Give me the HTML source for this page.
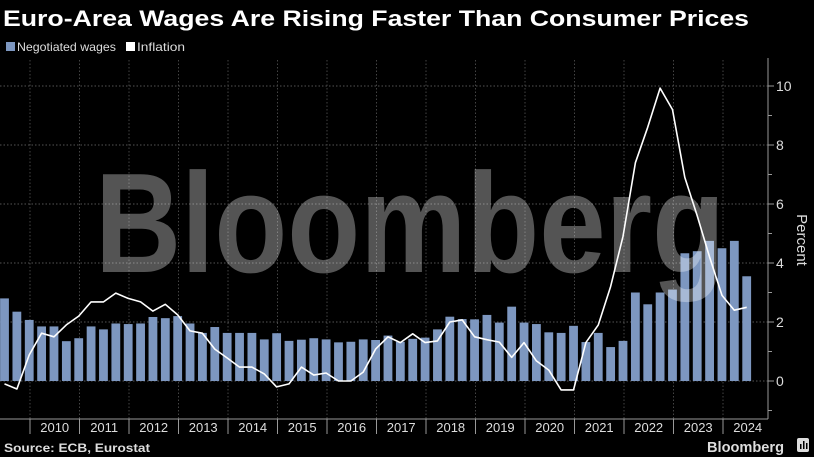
<!DOCTYPE html>
<html><head><meta charset="utf-8"><style>
html,body{margin:0;padding:0;background:#000;width:814px;height:457px;overflow:hidden}
svg{display:block}
text{font-family:"Liberation Sans",sans-serif}
</style></head><body>
<svg id="c" width="814" height="457" xmlns="http://www.w3.org/2000/svg">
<rect width="814" height="457" fill="#000"/>
<text x="3" y="26" fill="#fff" font-size="22" font-weight="bold" textLength="746" lengthAdjust="spacingAndGlyphs">Euro-Area Wages Are Rising Faster Than Consumer Prices</text>
<rect x="6" y="42" width="9" height="9" fill="#7d97c0"/>
<text x="17" y="51" fill="#ddd" font-size="12" textLength="99" lengthAdjust="spacingAndGlyphs">Negotiated wages</text>
<rect x="126" y="42" width="9" height="9" fill="#fff"/>
<text x="137" y="51" fill="#ddd" font-size="12" textLength="48" lengthAdjust="spacingAndGlyphs">Inflation</text>
<g id="grid"></g>
<g id="bars"></g>
<text x="95" y="272" fill="#fff" fill-opacity="0.33" font-size="142" font-weight="bold" textLength="630" lengthAdjust="spacingAndGlyphs">Bloomberg</text>
<polyline id="line" fill="none" stroke="#fff" stroke-width="1.6" stroke-linejoin="round"/>
<g id="axes"></g>
<text x="0" y="0" fill="#ddd" font-size="15" transform="translate(797,240) rotate(90)" text-anchor="middle">Percent</text>
<text x="4" y="452" fill="#ddd" font-size="12" font-weight="bold" textLength="146" lengthAdjust="spacingAndGlyphs">Source: ECB, Eurostat</text>
<text x="707" y="452" fill="#ddd" font-size="15" font-weight="bold" textLength="77" lengthAdjust="spacingAndGlyphs">Bloomberg</text>
<rect x="797" y="438" width="12" height="14" rx="2" fill="#ddd"/>
<rect x="800" y="444" width="1.5" height="5" fill="#000"/><rect x="803" y="441" width="1.5" height="8" fill="#000"/><rect x="806" y="443" width="1.5" height="6" fill="#000"/>
</svg>
<script>
var ns="http://www.w3.org/2000/svg";
function el(p,t,a){var e=document.createElementNS(ns,t);for(var k in a)e.setAttribute(k,a[k]);document.getElementById(p).appendChild(e);return e;}
var Y=function(v){return 381-29.5*v;};
var X=function(i){return 4.5+12.37*i;};
var w=[2.8,2.35,2.07,1.85,1.85,1.35,1.45,1.85,1.75,1.95,1.93,1.95,2.17,2.13,2.2,1.95,1.63,1.83,1.63,1.63,1.63,1.41,1.62,1.36,1.40,1.45,1.41,1.31,1.33,1.41,1.39,1.54,1.33,1.43,1.47,1.75,2.18,2.1,2.09,2.24,1.98,2.52,1.98,1.93,1.65,1.63,1.87,1.32,1.63,1.15,1.36,3.0,2.6,3.0,3.1,4.33,4.4,4.75,4.5,4.75,3.55];
var f=[-0.1,-0.27,0.88,1.62,1.5,1.9,2.2,2.68,2.68,2.98,2.8,2.68,2.37,2.6,2.24,1.7,1.62,1.08,0.78,0.47,0.47,0.24,-0.2,-0.1,0.47,0.2,0.27,0,0,0.3,1.08,1.5,1.3,1.6,1.3,1.36,2.0,2.07,1.5,1.4,1.32,0.8,1.3,0.68,0.37,-0.3,-0.3,1.3,1.9,3.2,4.9,7.4,8.6,9.93,9.2,6.9,5.6,4.2,2.9,2.4,2.5];
[0,2,4,6,8,10].forEach(function(v){el("grid","line",{x1:0,x2:768,y1:Y(v),y2:Y(v),stroke:"#555","stroke-dasharray":"1.5,2","stroke-width":1});});
for(var k=0;k<15;k++){var x=30+49.5*k;el("grid","line",{x1:x,x2:x,y1:60,y2:419,stroke:"#444","stroke-dasharray":"1.5,2","stroke-width":1});
 el("axes","line",{x1:x,x2:x,y1:419,y2:434,stroke:"#999","stroke-width":1});
 var t=el("axes","text",{x:x+24.7,y:432,fill:"#ddd","font-size":"13","text-anchor":"middle"});t.textContent=2010+k;}
w.forEach(function(v,i){el("bars","rect",{x:X(i)-4.4,y:Y(v),width:8.8,height:381-Y(v),fill:"#7d97c0"});});
document.getElementById("line").setAttribute("points",f.map(function(v,i){return X(i).toFixed(1)+","+Y(v).toFixed(1);}).join(" "));
el("axes","line",{x1:0,x2:768,y1:419,y2:419,stroke:"#999","stroke-width":1});
el("axes","line",{x1:768,x2:768,y1:58,y2:419,stroke:"#999","stroke-width":1});
for(var v=-1;v<=11;v++){var y=Y(v);if(y<58||y>419)continue;el("axes","line",{x1:768,x2:v%2==0?774:772,y1:y,y2:y,stroke:"#999","stroke-width":1});
 if(v%2==0&&v>=0){var t=el("axes","text",{x:776,y:y+5,fill:"#ddd","font-size":"14"});t.textContent=v;}}
</script>
</body></html>
